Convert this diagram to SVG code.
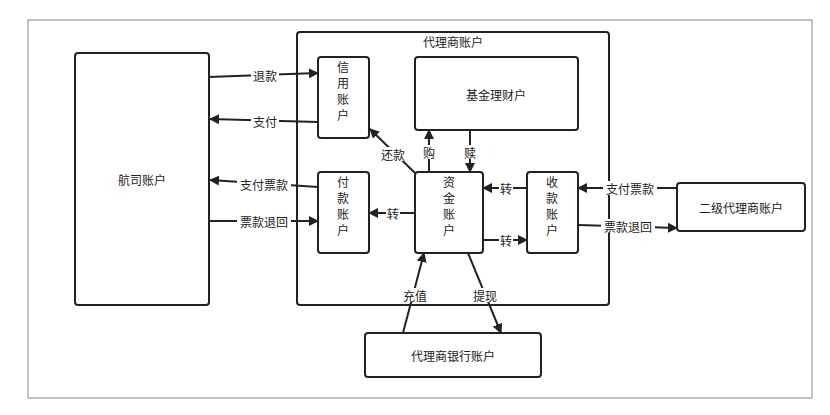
<svg xmlns="http://www.w3.org/2000/svg" width="830" height="415" viewBox="0 0 830 415">
<style>
.n{fill:#fff;stroke:#222;stroke-width:2}
text{font-family:"Noto Sans CJK SC","Liberation Sans",sans-serif;font-size:12px;fill:#222;text-anchor:middle;dominant-baseline:central}
.c line{stroke:#222;stroke-width:2}
.lb{fill:#fff;stroke:none}
</style>
<defs><marker id="a" viewBox="0 0 10 10" refX="9" refY="5" markerWidth="5" markerHeight="5" orient="auto"><path d="M0,0L10,5L0,10z" fill="#222"/></marker></defs>
<rect x="28" y="20" width="784" height="378" fill="#fff" stroke="#888" stroke-width="1"/>
<g id="airline"><rect class="n" x="75" y="53" width="134" height="252" rx="3"/><text x="142" y="179">航司账户</text></g>
<g id="agent"><rect class="n" x="297" y="32" width="312" height="273" rx="3"/><text x="453" y="41">代理商账户</text></g>
<g id="credit"><rect class="n" x="318" y="57" width="51" height="81" rx="3"/><text x="343" y="66">信</text><text x="343" y="82">用</text><text x="343" y="98">账</text><text x="343" y="114">户</text></g>
<g id="fund"><rect class="n" x="415" y="57" width="163" height="73" rx="3"/><text x="496" y="94">基金理财户</text></g>
<g id="pay"><rect class="n" x="318" y="172" width="51" height="81" rx="3"/><text x="343" y="181">付</text><text x="343" y="197">款</text><text x="343" y="213">账</text><text x="343" y="229">户</text></g>
<g id="capital"><rect class="n" x="415" y="172" width="68" height="81" rx="3"/><text x="449" y="181">资</text><text x="449" y="197">金</text><text x="449" y="213">账</text><text x="449" y="229">户</text></g>
<g id="receive"><rect class="n" x="527" y="172" width="51" height="81" rx="3"/><text x="552" y="181">收</text><text x="552" y="197">款</text><text x="552" y="213">账</text><text x="552" y="229">户</text></g>
<g id="secondary"><rect class="n" x="677" y="183" width="128" height="48" rx="3"/><text x="741" y="207">二级代理商账户</text></g>
<g id="bank"><rect class="n" x="365" y="333" width="176" height="44" rx="3"/><text x="453" y="355">代理商银行账户</text></g>
<g class="c">
<line x1="209" y1="77" x2="318" y2="73" marker-end="url(#a)"/>
<line x1="318" y1="122" x2="210" y2="119" marker-end="url(#a)"/>
<line x1="415" y1="173" x2="370" y2="129" marker-end="url(#a)"/>
<line x1="429" y1="172" x2="429" y2="130" marker-end="url(#a)"/>
<line x1="470" y1="130" x2="470" y2="172" marker-end="url(#a)"/>
<line x1="318" y1="187" x2="210" y2="180" marker-end="url(#a)"/>
<line x1="209" y1="221" x2="318" y2="221" marker-end="url(#a)"/>
<line x1="415" y1="213" x2="369" y2="213" marker-end="url(#a)"/>
<line x1="527" y1="188" x2="483" y2="188" marker-end="url(#a)"/>
<line x1="483" y1="240" x2="527" y2="240" marker-end="url(#a)"/>
<line x1="677" y1="188" x2="578" y2="188" marker-end="url(#a)"/>
<line x1="578" y1="225" x2="677" y2="228" marker-end="url(#a)"/>
<line x1="403" y1="333" x2="424" y2="253" marker-end="url(#a)"/>
<line x1="468" y1="253" x2="501" y2="333" marker-end="url(#a)"/>
</g>
<g id="labels">
<rect class="lb" x="251" y="68" width="28" height="14"/><text x="265" y="75">退款</text>
<rect class="lb" x="251" y="114" width="28" height="14"/><text x="265" y="121">支付</text>
<rect class="lb" x="379" y="147" width="28" height="14"/><text x="393" y="154">还款</text>
<rect class="lb" x="422" y="145" width="14" height="14"/><text x="429" y="152">购</text>
<rect class="lb" x="463" y="145" width="14" height="14"/><text x="470" y="152">赎</text>
<rect class="lb" x="237" y="177" width="54" height="14"/><text x="264" y="184">支付票款</text>
<rect class="lb" x="237" y="214" width="54" height="14"/><text x="264" y="221">票款退回</text>
<rect class="lb" x="386" y="206" width="14" height="14"/><text x="393" y="213">转</text>
<rect class="lb" x="499" y="181" width="14" height="14"/><text x="506" y="188">转</text>
<rect class="lb" x="499" y="233" width="14" height="14"/><text x="506" y="240">转</text>
<rect class="lb" x="603" y="181" width="54" height="14"/><text x="630" y="188">支付票款</text>
<rect class="lb" x="601" y="219" width="54" height="14"/><text x="628" y="226">票款退回</text>
<rect class="lb" x="401" y="288" width="28" height="14"/><text x="415" y="295">充值</text>
<rect class="lb" x="471" y="288" width="28" height="14"/><text x="485" y="295">提现</text>
</g>
</svg>
